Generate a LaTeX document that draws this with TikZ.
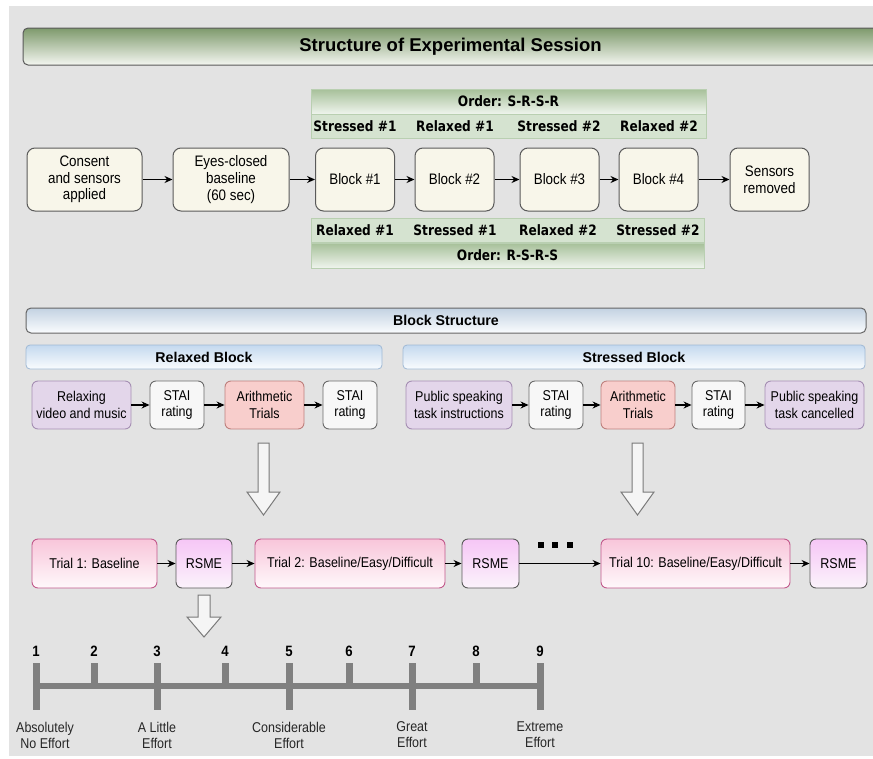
\documentclass[tikz,border=0pt]{standalone}
\usepackage{fontspec}
\setmainfont{Liberation Sans}[FakeStretch=0.88]
\newfontfamily\headfont{Liberation Sans}
\newfontfamily\labelfont{DejaVu Sans}[FakeStretch=0.85]
\usetikzlibrary{arrows.meta}

\definecolor{bggray}{HTML}{E3E3E3}
\definecolor{titletop}{HTML}{7E9A6C}
\definecolor{titlebottom}{HTML}{F4F6F1}
\definecolor{ordertop}{HTML}{A6C099}
\definecolor{orderbottom}{HTML}{EFF4ED}
\definecolor{orderline}{HTML}{B9CFB1}
\definecolor{bandfill}{HTML}{D5E3D0}
\definecolor{stagefill}{HTML}{F8F6EA}
\definecolor{stageline}{HTML}{5A5A5A}
\definecolor{headtop}{HTML}{C3D2E2}
\definecolor{headbottom}{HTML}{FAFCFE}
\definecolor{subtop}{HTML}{C4D9EF}
\definecolor{subline}{HTML}{9FB9D5}
\definecolor{purplefill}{HTML}{E3D6EA}
\definecolor{purpleline}{HTML}{A58FB3}
\definecolor{ratingfill}{HTML}{F7F7F7}
\definecolor{ratingline}{HTML}{6A6A6A}
\definecolor{arithfill}{HTML}{F8CECC}
\definecolor{arithline}{HTML}{BE807D}
\definecolor{trialtop}{HTML}{F8C6DA}
\definecolor{trialbottom}{HTML}{FFF8FB}
\definecolor{trialline}{HTML}{C2598C}
\definecolor{rsmetop}{HTML}{F6C6F6}
\definecolor{rsmebottom}{HTML}{FBF3FB}
\definecolor{arrowfill}{HTML}{F5F5F5}
\definecolor{arrowline}{HTML}{7A7A7A}
\definecolor{scalegray}{HTML}{808080}

\tikzstyle{titlebar} = [rectangle, rounded corners=5pt, draw=black!65, line width=1pt, top color=titletop, bottom color=titlebottom, minimum width=855pt, minimum height=37pt, font=\headfont\bfseries\fontsize{18.5}{20}\selectfont]
\tikzstyle{orderbar} = [rectangle, draw=orderline, line width=0.8pt, top color=ordertop, bottom color=orderbottom, minimum width=395pt, minimum height=25pt, font=\labelfont\bfseries\fontsize{14.3}{16}\selectfont]
\tikzstyle{orderband} = [rectangle, draw=orderline, line width=0.8pt, fill=bandfill, minimum width=395pt, minimum height=24pt]
\tikzstyle{orderlabel} = [font=\labelfont\bfseries\fontsize{14.3}{16}\selectfont]
\tikzstyle{stage} = [rectangle, rounded corners=8pt, draw=stageline, fill=stagefill, line width=1pt, minimum width=79pt, minimum height=63pt, align=center, font=\fontsize{15.2}{16.7}\selectfont]
\tikzstyle{header} = [rectangle, rounded corners=5pt, draw=black!60, line width=1pt, top color=headtop, bottom color=headbottom, minimum width=840pt, minimum height=25pt, font=\headfont\bfseries\fontsize{14.2}{16}\selectfont]
\tikzstyle{subheader} = [rectangle, rounded corners=4pt, draw=subline, line width=0.8pt, top color=subtop, bottom color=headbottom, minimum height=24pt, font=\headfont\bfseries\fontsize{14.2}{16}\selectfont]
\tikzstyle{task} = [rectangle, rounded corners=6pt, line width=0.9pt, minimum height=48pt, inner sep=1pt, align=center, font=\fontsize{14.2}{16.5}\selectfont]
\tikzstyle{relax} = [task, fill=purplefill, draw=purpleline]
\tikzstyle{rating} = [task, fill=ratingfill, draw=ratingline, minimum width=54pt]
\tikzstyle{trials} = [task, fill=arithfill, draw=arithline]
\tikzstyle{trialbox} = [task, minimum height=49pt, top color=trialtop, bottom color=trialbottom, draw=trialline]
\tikzstyle{rsme} = [task, minimum height=49pt, minimum width=57pt, top color=rsmetop, bottom color=rsmebottom, draw=stageline]
\tikzstyle{arrow} = [line width=1.2pt, ->, >={Stealth[length=8pt,width=7pt]}]
\tikzstyle{hollow} = [fill=arrowfill, draw=arrowline, line width=1pt, line join=miter]
\tikzstyle{scalebar} = [draw=scalegray, line width=6pt]
\tikzstyle{tick} = [draw=scalegray, line width=7pt]
\tikzstyle{num} = [font=\bfseries\fontsize{15}{17}\selectfont]
\tikzstyle{scalelabel} = [align=center, font=\fontsize{14.2}{16}\selectfont, text=black!85]

\begin{document}
\begin{tikzpicture}[x=1pt,y=-1pt]
            \useasboundingbox (0,0) rectangle (873,758);
            \fill [white] (0,0) rectangle (873,758);
            \fill [bggray] (9,6) rectangle (873,756);
            % session overview
            \node [titlebar] at (450.5,46.5) (title) {Structure of Experimental Session};
            \node [orderbar] at (508.5,101.5) (orderSRSR) {Order: S-R-S-R};
            \node [orderband] at (508.5,126) (bandSRSR) {};
            \node [orderlabel] at (355,126) (s1top) {Stressed \#1};
            \node [orderlabel] at (455,126) (r1top) {Relaxed \#1};
            \node [orderlabel] at (559,126) (s2top) {Stressed \#2};
            \node [orderlabel] at (659,126) (r2top) {Relaxed \#2};
            \node [stage, minimum width=115pt] at (84.5,179.5) (consent) {Consent\\and sensors\\applied};
            \node [stage, minimum width=116pt] at (231,179.5) (eyes) {Eyes-closed\\baseline\\(60 sec)};
            \node [stage] at (355,179.5) (block1) {Block \#1};
            \node [stage] at (454.5,179.5) (block2) {Block \#2};
            \node [stage] at (559.5,179.5) (block3) {Block \#3};
            \node [stage] at (658.5,179.5) (block4) {Block \#4};
            \node [stage] at (769.5,179.5) (removed) {Sensors\\removed};
            \node [orderband, minimum width=393pt] at (507.5,230.5) (bandRSRS) {};
            \node [orderlabel] at (355,230.5) (r1bot) {Relaxed \#1};
            \node [orderlabel] at (455,230.5) (s1bot) {Stressed \#1};
            \node [orderlabel] at (558,230.5) (r2bot) {Relaxed \#2};
            \node [orderlabel] at (658,230.5) (s2bot) {Stressed \#2};
            \node [orderbar, minimum width=393pt] at (507.5,255.5) (orderRSRS) {Order: R-S-R-S};
            \draw [arrow] (consent) -- (eyes);
            \draw [arrow] (eyes) -- (block1);
            \draw [arrow] (block1) -- (block2);
            \draw [arrow] (block2) -- (block3);
            \draw [arrow] (block3) -- (block4);
            \draw [arrow] (block4) -- (removed);
            % block structure
            \node [header] at (446,320.5) (blockhead) {Block Structure};
            \node [subheader, minimum width=356pt] at (204,357) (relaxhead) {Relaxed Block};
            \node [subheader, minimum width=462pt] at (634,357) (stresshead) {Stressed Block};
            \node [relax, minimum width=99pt] at (81.5,405) (video) {Relaxing\\video and music};
            \node [rating] at (177,405) (stai1) {STAI\\rating};
            \node [trials, minimum width=79pt] at (264.5,405) (arith1) {Arithmetic\\Trials};
            \node [rating] at (350,405) (stai2) {STAI\\rating};
            \node [relax, minimum width=106pt] at (459,405) (speech) {Public speaking\\task instructions};
            \node [rating] at (556,405) (stai3) {STAI\\rating};
            \node [trials, minimum width=74pt] at (638,405) (arith2) {Arithmetic\\Trials};
            \node [rating, minimum width=53pt] at (718.5,405) (stai4) {STAI\\rating};
            \node [relax, minimum width=99pt] at (814.5,405) (cancel) {Public speaking\\task cancelled};
            \draw [arrow] (video) -- (stai1);
            \draw [arrow] (stai1) -- (arith1);
            \draw [arrow] (arith1) -- (stai2);
            \draw [arrow] (speech) -- (stai3);
            \draw [arrow] (stai3) -- (arith2);
            \draw [arrow] (arith2) -- (stai4);
            \draw [arrow] (stai4) -- (cancel);
            \draw [hollow] (258,443) -- (269,443) -- (269,492) -- (280,492) -- (263.5,515) -- (247,492) -- (258,492) -- cycle;
            \draw [hollow] (632,443) -- (643,443) -- (643,492) -- (654,492) -- (637.5,515) -- (621,492) -- (632,492) -- cycle;
            % trials
            \node [trialbox, minimum width=125pt] at (94.5,563.5) (trial1) {Trial 1: Baseline};
            \node [rsme, minimum width=56pt] at (204,563.5) (rsme1) {RSME};
            \node [trialbox, minimum width=190pt] at (350,563.5) (trial2) {Trial 2: Baseline/Easy/Difficult};
            \node [rsme] at (490.5,563.5) (rsme2) {RSME};
            \node [trialbox, minimum width=189pt] at (695.5,563.5) (trial10) {Trial 10: Baseline/Easy/Difficult};
            \node [rsme] at (838.5,563.5) (rsme10) {RSME};
            \draw [arrow] (trial1) -- (rsme1);
            \draw [arrow] (rsme1) -- (trial2);
            \draw [arrow] (trial2) -- (rsme2);
            \draw [arrow] (rsme2) -- (trial10);
            \draw [arrow] (trial10) -- (rsme10);
            \foreach \x in {538,552,567}
                \fill (\x,542) rectangle ++(6,6);
            \draw [hollow] (198,595) -- (210,595) -- (210,617) -- (221,617) -- (204,637) -- (187,617) -- (198,617) -- cycle;
            % effort scale
            \draw [scalebar] (36,686) -- (540,686);
            \foreach \x/\n in {36/1,94/2,157/3,225/4,289/5,349/6,412/7,476/8,540/9}
                \node [num] at (\x,651) (n\n) {\n};
            \foreach \x in {36,157,289,412,540}
                \draw [tick] (\x,663) -- (\x,710);
            \foreach \x in {94,225,349,476}
                \draw [tick] (\x,663) -- (\x,686);
            \node [scalelabel] at (45,735) (none) {Absolutely\\No Effort};
            \node [scalelabel] at (157,735) (little) {A Little\\Effort};
            \node [scalelabel] at (289,735) (consid) {Considerable\\Effort};
            \node [scalelabel] at (412,735) (great) {Great\\Effort};
            \node [scalelabel] at (540,735) (extreme) {Extreme\\Effort};
\end{tikzpicture}
\end{document}
